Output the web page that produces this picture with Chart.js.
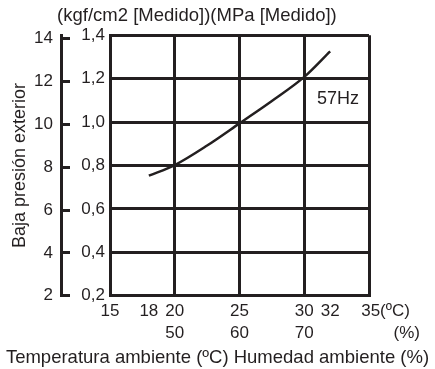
<html>

<head>
  <!-- Chart.js -->
  <script src="https://cdn.jsdelivr.net/npm/chart.js@4.4.1/dist/chart.umd.min.js"></script>
  <style>
    body { margin: 0; background: #fff; }
    #wrap { width: 435px; height: 369px; }
  </style>
</head>

<body>
  <div id="wrap"><canvas id="pressureChart"></canvas></div>

<script>
  // Curve: temperature (ºC) -> low pressure (MPa).
  const temperatures = [18, 20, 22.5, 25, 27.5, 30, 32];
  const pressureMPa = [0.753, 0.802, 0.892, 0.994, 1.097, 1.208, 1.326];

  // Tick labels.
  const tempTicks = [15, 18, 20, 25, 30, 32, 35];
  const tempLabels = ['15', '18', '20', '25', '30', '32', '35(ºC)'];
  const humidityLabels = ['', '', '50', '60', '70', '', '(%)'];
  const kgfTicks = [2, 4, 6, 8, 10, 12, 14];
  const mpaTicks = [0.2, 0.4, 0.6, 0.8, 1.0, 1.2, 1.4];
  const noGridTemps = [18, 32];

  const topTitle = '(kgf/cm2 [Medido])(MPa [Medido])';
  const yTitle = 'Baja presión exterior';
  const xTitle = 'Temperatura ambiente (ºC) Humedad ambiente (%)';
  const freqLabel = '57Hz';

  const ink = '#231f20';
  const family = "'Liberation Sans', Arial, sans-serif";
  Chart.defaults.font.family = family;
  Chart.defaults.color = ink;

  // "57Hz" note inside the plot.
  const freqPlugin = {
    id: 'freqLabel',
    afterDatasetsDraw(chart) {
      const { ctx, scales } = chart;
      ctx.save();
      ctx.font = '18px ' + family;
      ctx.fillStyle = ink;
      ctx.textAlign = 'center';
      ctx.textBaseline = 'middle';
      ctx.fillText(freqLabel, scales.x.getPixelForValue(32.6), scales.mpa.getPixelForValue(1.106));
      ctx.restore();
    }
  };

  const ctx = document.getElementById('pressureChart').getContext('2d');
  new Chart(ctx, {
    type: 'line',
    data: {
      datasets: [{
        data: temperatures.map((t, i) => ({ x: t, y: pressureMPa[i] })),
        xAxisID: 'x',
        yAxisID: 'mpa',
        borderColor: ink,
        borderWidth: 2.5,
        pointRadius: 0,
        cubicInterpolationMode: 'monotone',
        fill: false
      }]
    },
    options: {
      responsive: true,
      maintainAspectRatio: false,
      animation: false,
      layout: { padding: 0 },
      plugins: {
        legend: { display: false },
        tooltip: { enabled: false },
        title: {
          display: true,
          text: topTitle + ' '.repeat(8),
          color: ink,
          font: { size: 18.5, weight: 'normal' },
          padding: { top: 5, bottom: 8 }
        },
        subtitle: {
          display: true,
          position: 'bottom',
          text: xTitle,
          color: ink,
          font: { size: 18.5, weight: 'normal' },
          padding: { top: 0, bottom: 0 }
        }
      },
      scales: {
        x: {
          type: 'linear',
          min: 15,
          max: 35,
          afterBuildTicks: (s) => { s.ticks = tempTicks.map((v) => ({ value: v })); },
          afterFit: (s) => { s.height = 51; s.paddingLeft = 0; s.paddingRight = 66; },
          grid: {
            color: (c) => (c.tick && noGridTemps.includes(c.tick.value)) ? 'rgba(0,0,0,0)' : ink,
            lineWidth: 3,
            drawTicks: false
          },
          border: { color: ink, width: 3 },
          ticks: {
            autoSkip: false,
            maxRotation: 0,
            padding: 4,
            font: { size: 17, lineHeight: 1.3 },
            callback: (v, i) => {
              const last = i === tempTicks.length - 1;
              return [
                (last ? ' '.repeat(7) : '') + tempLabels[i],
                (last ? ' '.repeat(16) : '') + humidityLabels[i]
              ];
            }
          }
        },
        mpa: {
          position: 'left',
          weight: 0,
          min: 0.2,
          max: 1.4,
          afterBuildTicks: (s) => { s.ticks = mpaTicks.map((v) => ({ value: v })); },
          afterFit: (s) => { s.width = 49; },
          grid: { color: ink, lineWidth: 3, drawTicks: false },
          border: { color: ink, width: 3 },
          ticks: {
            padding: 5,
            font: { size: 17 },
            callback: (v) => v.toFixed(1).replace('.', ',')
          }
        },
        kgf: {
          position: 'left',
          weight: 1,
          min: 2,
          max: 14.15,
          afterBuildTicks: (s) => { s.ticks = kgfTicks.map((v) => ({ value: v })); },
          afterFit: (s) => { s.width = 61; },
          grid: { drawOnChartArea: false, tickLength: -9, lineWidth: 3, color: ink },
          border: { color: ink, width: 3 },
          ticks: { padding: 17, font: { size: 17 } },
          title: {
            display: true,
            text: yTitle,
            color: ink,
            font: { size: 18 },
            padding: { top: 9, bottom: 0 }
          }
        }
      }
    },
    plugins: [freqPlugin]
  });
</script>
</body>

</html>
